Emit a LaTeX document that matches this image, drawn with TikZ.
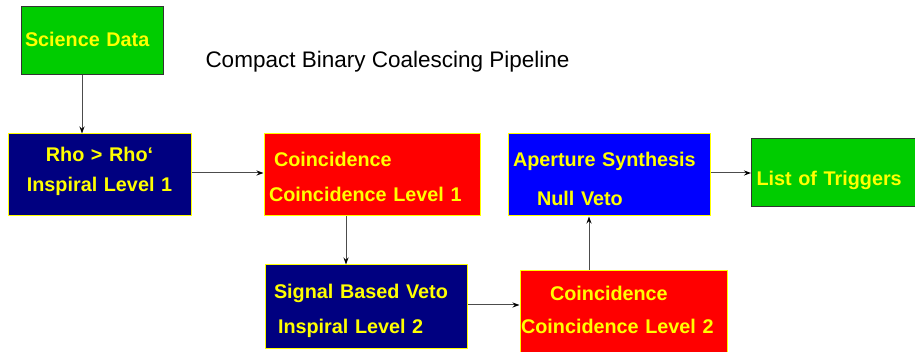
\documentclass[tikz,border=0pt]{standalone}
\usepackage{fontspec}
\setmainfont{Liberation Sans}
\usetikzlibrary{arrows.meta}
\definecolor{sdgreen}{RGB}{0,204,0}
\definecolor{sdnavy}{RGB}{0,0,128}
\definecolor{sdblue}{RGB}{0,0,255}
\definecolor{sdred}{RGB}{255,0,0}
\definecolor{sdyellow}{RGB}{255,255,0}
\begin{document}
\begin{tikzpicture}[x=1pt,y=-1pt,line width=1pt]
	\useasboundingbox (0,0) rectangle (915,352);
	\clip (0,0) rectangle (915,352);
	\tikzstyle{every node}=[rectangle,inner sep=0pt,text=sdyellow,font=\bfseries\fontsize{19.8}{23}\selectfont]
	\tikzstyle{GB} =[draw=black!80,fill=sdgreen,align=left]   % GB = green input/output box
	\tikzstyle{NB} =[draw=sdyellow,fill=sdnavy,align=left]    % NB = navy inspiral box
	\tikzstyle{RB} =[draw=sdyellow,fill=sdred,align=left]     % RB = red coincidence box
	\tikzstyle{BB} =[draw=sdyellow,fill=sdblue,align=left]    % BB = blue synthesis box
	\tikzstyle{arr}=[draw=black!70,-{Stealth[length=7pt,width=5pt,black]}]
	% title
	\node(title)[text=black,font=\fontsize{22.5}{26}\selectfont,anchor=base west] at (205,68) {Compact Binary Coalescing Pipeline};
	% boxes (text height = top edge to first baseline)
	\node(sci)[GB,text width=134pt,inner xsep=4pt,text height=40pt,text depth=28pt] at (92,41) {Science Data};
	\node(rho)[NB,align=center,text width=183pt,text height=28pt,text depth=54pt] at (99.5,175) {Rho > Rho‘\\[7pt]Inspiral Level 1};
	\node(co1)[RB,text width=206pt,inner xsep=5pt,text height=33pt,text depth=49pt] at (372,175) {\hspace*{5pt}Coincidence\\[12pt]Coincidence Level 1};
	\node(ap) [BB,text width=192pt,inner xsep=5pt,text height=33pt,text depth=49pt] at (609,175) {Aperture Synthesis\\[16pt]\hspace*{24pt}Null Veto};
	\node(list)[GB,text width=200pt,inner xsep=5pt,text height=47pt,text depth=21pt,anchor=west] at (751,173) {List of Triggers};
	\node(sbv)[NB,text width=184pt,inner xsep=9pt,text height=34pt,text depth=49pt] at (366,306.5) {Signal Based Veto\\[12pt]\hspace*{4pt}Inspiral Level 2};
	\node(co2)[RB,text width=205pt,inner xsep=1pt,text height=30pt,text depth=80pt,anchor=north] at (623.5,270) {\hspace*{29pt}Coincidence\\[10pt]Coincidence Level 2};
	% connectors
	\draw[arr] ([xshift=-10pt]sci.south) -- ([xshift=-10pt]sci.south |- rho.north);
	\draw[arr] ([yshift=2pt]rho.east) -- ([yshift=2pt]rho.east -| co1.west);
	\draw[arr] ([xshift=-26pt]co1.south) -- ([xshift=-26pt]co1.south |- sbv.north);
	\draw[arr] ([yshift=1.5pt]sbv.east) -- ([yshift=1.5pt]sbv.east -| co2.west);
	\draw[arr] ([xshift=-34.5pt]co2.north) -- ([xshift=-34.5pt]co2.north |- ap.south);
	\draw[arr] ([yshift=2pt]ap.east) -- ([yshift=2pt]ap.east -| list.west);
\end{tikzpicture}
\end{document}
